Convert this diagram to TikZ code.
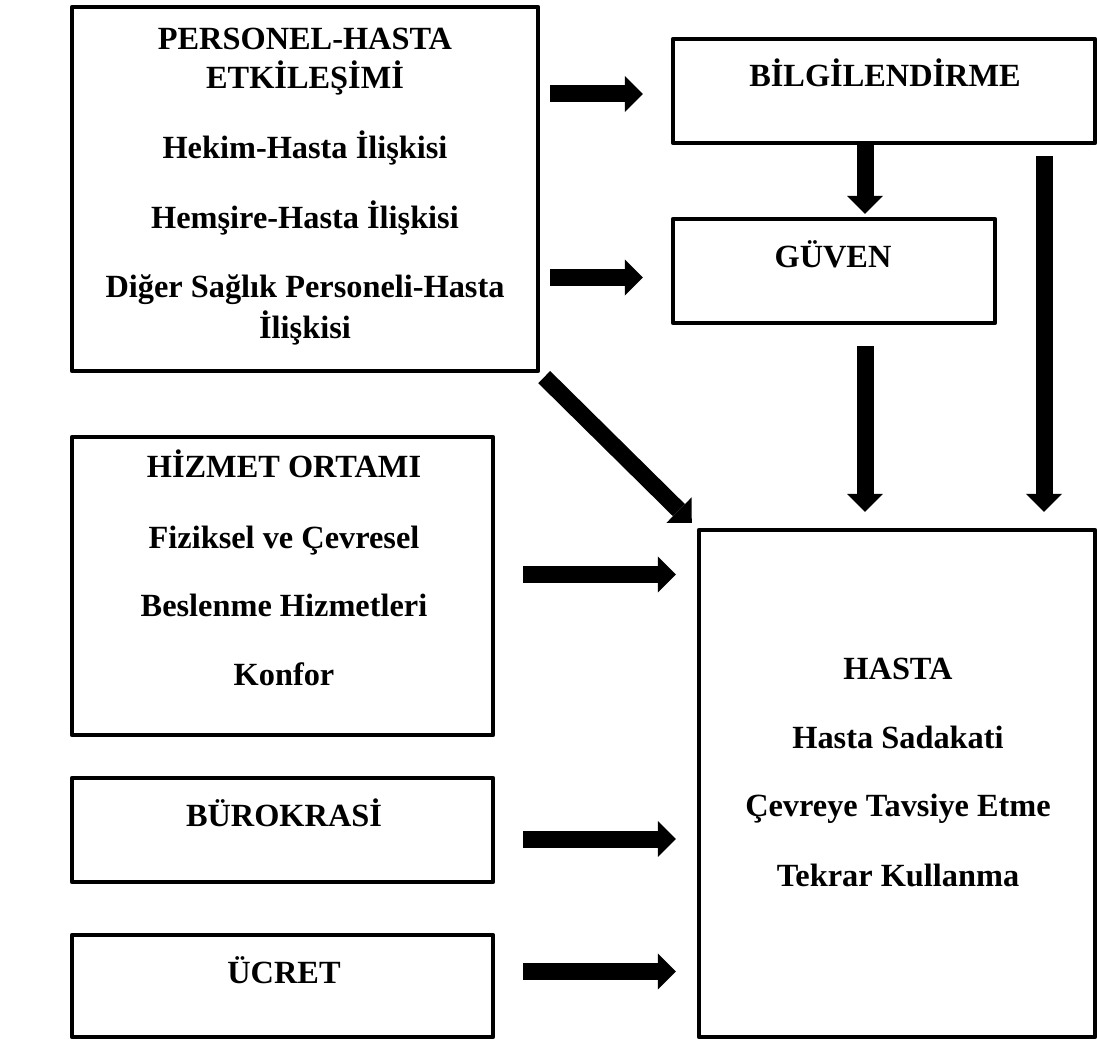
\documentclass[tikz,border=0pt]{standalone}
\usepackage{fontspec}
\setmainfont{Liberation Serif}
\usetikzlibrary{arrows.meta}

\tikzset{
  box/.style={draw, rectangle, line width=0.04cm, line join=round, inner sep=0pt, outer sep=0pt},
  lbl/.style={font=\bfseries\fontsize{9.2}{11}\selectfont, anchor=base, inner sep=0pt},
  fatarrow/.style={line width=0.17cm, -{Triangle[width=0.36cm, length=0.18cm, line width=0pt]}},
}

\begin{document}
\begin{tikzpicture}[x=0.01cm, y=-0.01cm]
      \useasboundingbox (0,0) rectangle (1097,1043);

      \node[box, minimum width=4.66cm, minimum height=3.64cm] (pers) at (305,189) {};
      \node[box, minimum width=4.22cm, minimum height=1.04cm] (bilg) at (884,91) {};
      \node[box, minimum width=3.22cm, minimum height=1.04cm] (guven) at (834,271) {};
      \node[box, minimum width=4.21cm, minimum height=2.98cm] (hizmet) at (282.5,586) {};
      \node[box, minimum width=4.21cm, minimum height=1.04cm] (buro) at (282.5,830) {};
      \node[box, minimum width=4.21cm, minimum height=1.02cm] (ucret) at (282.5,986) {};
      \node[box, minimum width=3.96cm, minimum height=5.07cm] (hasta) at (897,783.5) {};

      \node[lbl] (pers1) at (305,50) {PERSONEL-HASTA};
      \node[lbl] (pers2) at (305,89) {ETKİLEŞİMİ};
      \node[lbl] (pers3) at (305,159) {Hekim-Hasta İlişkisi};
      \node[lbl] (pers4) at (305,229) {Hemşire-Hasta İlişkisi};
      \node[lbl] (pers5) at (305,298) {Diğer Sağlık Personeli-Hasta};
      \node[lbl] (pers6) at (305,339) {İlişkisi};
      \node[lbl] (bilg1) at (885,87) {BİLGİLENDİRME};
      \node[lbl] (guven1) at (833,268) {GÜVEN};
      \node[lbl] (hizmet1) at (284,478) {HİZMET ORTAMI};
      \node[lbl] (hizmet2) at (284,548) {Fiziksel ve Çevresel};
      \node[lbl] (hizmet3) at (284,616) {Beslenme Hizmetleri};
      \node[lbl] (hizmet4) at (284,685) {Konfor};
      \node[lbl] (buro1) at (284,826) {BÜROKRASİ};
      \node[lbl] (ucret1) at (284,983) {ÜCRET};
      \node[lbl] (hasta1) at (898,679) {HASTA};
      \node[lbl] (hasta2) at (898,748) {Hasta Sadakati};
      \node[lbl] (hasta3) at (898,816) {Çevreye Tavsiye Etme};
      \node[lbl] (hasta4) at (898,886) {Tekrar Kullanma};

      \draw[fatarrow, shorten <=0.12cm, shorten >=0.30cm] (pers.east |- 0,94) -- (bilg.west |- 0,94);
      \draw[fatarrow, shorten <=0.12cm, shorten >=0.30cm] (pers.east |- 0,277.5) -- (guven.west |- 0,277.5);
      \draw[fatarrow, shorten >=0.05cm] (bilg.south -| 865,0) -- (guven.north -| 865,0);
      \draw[fatarrow, shorten <=0.23cm, shorten >=0.18cm] (guven.south -| 865,0) -- (hasta.north -| 865,0);
      \draw[fatarrow, shorten <=0.13cm, shorten >=0.18cm] (bilg.south -| 1044,0) -- (hasta.north -| 1044,0);
      \draw[fatarrow, shorten <=0.085cm, shorten >=0.10cm] (pers.south east) -- (hasta.north west);
      \draw[fatarrow, shorten <=0.30cm, shorten >=0.23cm] (hizmet.east |- 0,574.5) -- (hasta.west |- 0,574.5);
      \draw[fatarrow, shorten <=0.30cm, shorten >=0.23cm] (buro.east |- 0,839) -- (hasta.west |- 0,839);
      \draw[fatarrow, shorten <=0.30cm, shorten >=0.23cm] (ucret.east |- 0,971.5) -- (hasta.west |- 0,971.5);
\end{tikzpicture}
\end{document}
